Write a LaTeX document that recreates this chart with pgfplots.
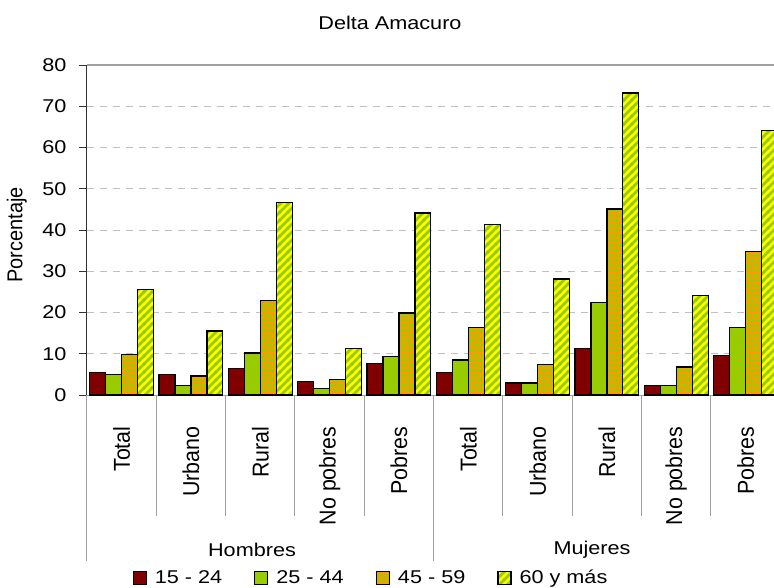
\documentclass[border=0pt]{standalone}
\usepackage{pgfplots}
\pgfplotsset{compat=1.18}
\usepackage{fontspec}
\setmainfont{Liberation Sans}[FakeStretch=1.17]
\newfontfamily\rotfont{Liberation Sans}[FakeStretch=0.93]
\usetikzlibrary{patterns}
\definecolor{cmaroon}{HTML}{800000}
\definecolor{cgreen}{HTML}{99CC00}
\definecolor{corange}{HTML}{FF9900}
\definecolor{cyellow}{HTML}{FFFF00}
\definecolor{cgrid}{HTML}{C0C0C0}
\definecolor{caxis}{HTML}{A0A0A0}
\pgfdeclarepatternformonly{mybricks}{\pgfqpoint{-1bp}{-1bp}}{\pgfqpoint{9bp}{11bp}}{\pgfqpoint{8bp}{10bp}}{%
  \pgfsetlinewidth{1.3bp}%
  \pgfpathmoveto{\pgfqpoint{-1bp}{0bp}}\pgfpathlineto{\pgfqpoint{9bp}{0bp}}%
  \pgfpathmoveto{\pgfqpoint{-1bp}{5bp}}\pgfpathlineto{\pgfqpoint{9bp}{5bp}}%
  \pgfpathmoveto{\pgfqpoint{0bp}{0bp}}\pgfpathlineto{\pgfqpoint{0bp}{5bp}}%
  \pgfpathmoveto{\pgfqpoint{4bp}{5bp}}\pgfpathlineto{\pgfqpoint{4bp}{10bp}}%
  \pgfusepath{stroke}}
\pgfdeclarepatternformonly{mystripes}{\pgfqpoint{-1bp}{-1bp}}{\pgfqpoint{9bp}{9bp}}{\pgfqpoint{8bp}{8bp}}{%
  \pgfsetlinewidth{2.6bp}%
  \pgfpathmoveto{\pgfqpoint{-0.5bp}{-0.5bp}}\pgfpathlineto{\pgfqpoint{8.5bp}{8.5bp}}%
  \pgfpathmoveto{\pgfqpoint{-1bp}{7bp}}\pgfpathlineto{\pgfqpoint{1bp}{9bp}}%
  \pgfpathmoveto{\pgfqpoint{7bp}{-1bp}}\pgfpathlineto{\pgfqpoint{9bp}{1bp}}%
  \pgfusepath{stroke}}

\pgfplotstableread{
x a b c d
0 5.5 4.9 9.8 25.5
1 4.9 2.4 4.6 15.5
2 6.4 10.2 22.9 46.7
3 3.2 1.5 3.7 11.2
4 7.7 9.4 19.9 44.1
5 5.5 8.5 16.4 41.3
6 2.9 2.9 7.3 28.1
7 11.2 22.5 45.1 73.2
8 2.4 2.3 6.8 24.2
9 9.5 16.4 34.7 64.1
}\datatable

\begin{document}
\begin{tikzpicture}[font=\fontsize{18.5bp}{22bp}\selectfont]
\begin{axis}[
  at={(0,0)}, anchor=south west,
  scale only axis, width=687bp, height=330bp,
  xmin=-0.5, xmax=9.41, ymin=0, ymax=80,
  ybar=0pt, bar width=0.23,
  axis x line*=bottom, axis y line*=left,
  x axis line style={caxis, line width=1bp},
  y axis line style={black!80, line width=1bp},
  xtick=data,
  xticklabels={Total,Urbano,Rural,No pobres,Pobres,Total,Urbano,Rural,No pobres,Pobres},
  xtick style={draw=none},
  xticklabel style={rotate=90, anchor=east, font=\rotfont\fontsize{23bp}{26bp}\selectfont},
  xticklabel shift=20bp,
  ytick={0,10,...,80},
  ytick style={black!80, line width=0.8bp},
  tick align=outside, major tick length=8bp,
  yticklabel shift=9bp,
  /pgf/number format/assume math mode=true,
  ymajorgrids, grid style={cgrid, dash pattern=on 7bp off 6bp, line width=1bp},
  title={Delta Amacuro},
  title style={at={(axis description cs:0.441,1.111)}, anchor=center},
  ylabel={Porcentaje},
  ylabel style={at={(axis description cs:-0.102,0.485)}, anchor=center, font=\rotfont\fontsize{21.5bp}{24bp}\selectfont},
  legend columns=4,
  legend style={at={(axis description cs:0.4134,-0.554)}, anchor=center, draw=none, fill=none,
    /tikz/every even column/.append style={column sep=30bp},
    /tikz/every odd column/.append style={column sep=6bp}},
  legend image code/.code={\draw[#1] (0bp,-6.5bp) rectangle (13bp,6.5bp);},
  clip=false,
]
\addplot[draw=black, line width=1.2bp, fill=cmaroon] table[x=x,y=a]{\datatable};
\addplot[draw=black, line width=1.2bp, fill=cgreen] table[x=x,y=b]{\datatable};
\addplot[draw=black, line width=1.2bp, preaction={fill=cgreen}, pattern=mybricks, pattern color=corange] table[x=x,y=c]{\datatable};
\addplot[draw=black, line width=1.2bp, preaction={fill=cyellow}, pattern=mystripes, pattern color=cgreen] table[x=x,y=d]{\datatable};
\legend{15 - 24,25 - 44,45 - 59,60 y más}
\draw[caxis, line width=1.5bp] (rel axis cs:0,1) -- (rel axis cs:1,1);
\pgfplotsinvokeforeach{0.5,1.5,2.5,3.5,5.5,6.5,7.5,8.5}{
  \draw[caxis, line width=1bp] (axis cs:#1,0) -- ++(0bp,-121bp);
}
\pgfplotsinvokeforeach{-0.5,4.5}{
  \draw[caxis, line width=1bp] (axis cs:#1,0) -- ++(0bp,-166bp);
}
\node at (axis cs:1.88,0) [yshift=-155bp] {Hombres};
\node at (axis cs:6.785,0) [yshift=-155bp] {Mujeres};
\end{axis}
\pgfresetboundingbox
\path (-87bp,-193bp) rectangle (687bp,395bp);
\end{tikzpicture}
\end{document}
